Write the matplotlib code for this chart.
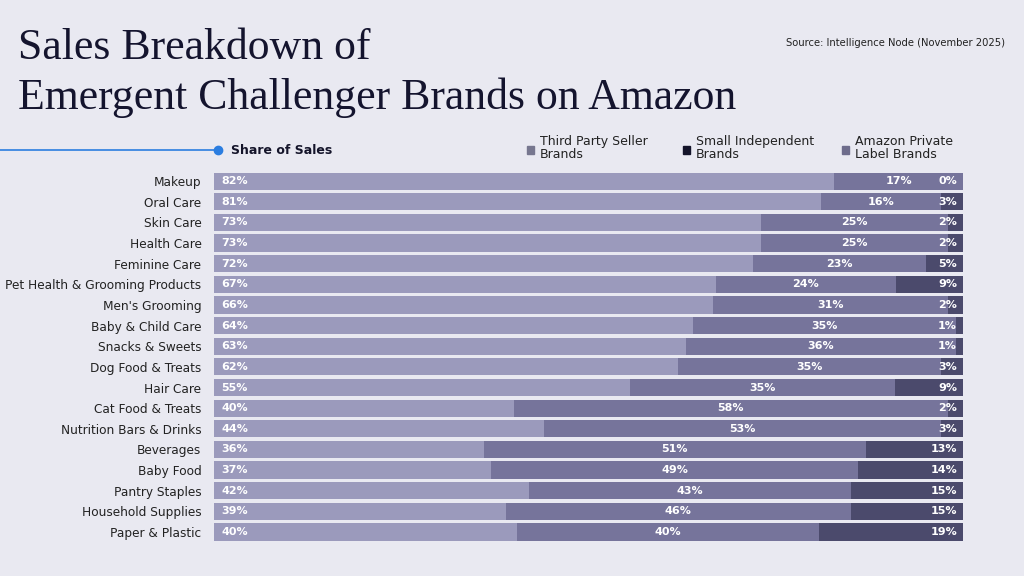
import numpy as np
import matplotlib.pyplot as plt
from matplotlib.patches import Rectangle
from matplotlib.lines import Line2D

# datos
categorias = ['Makeup', 'Oral Care', 'Skin Care', 'Health Care', 'Feminine Care',
              'Pet Health & Grooming Products', "Men's Grooming", 'Baby & Child Care',
              'Snacks & Sweets', 'Dog Food & Treats', 'Hair Care', 'Cat Food & Treats',
              'Nutrition Bars & Drinks', 'Beverages', 'Baby Food', 'Pantry Staples',
              'Household Supplies', 'Paper & Plastic']
tercero = [82, 81, 73, 73, 72, 67, 66, 64, 63, 62, 55, 40, 44, 36, 37, 42, 39, 40]
independiente = [17, 16, 25, 25, 23, 24, 31, 35, 36, 35, 35, 58, 53, 51, 49, 43, 46, 40]
privada = [0, 3, 2, 2, 5, 9, 2, 1, 1, 3, 9, 2, 3, 13, 14, 15, 15, 19]
series = ['Third Party Seller\nBrands', 'Small Independent\nBrands', 'Amazon Private\nLabel Brands']

fondo = '#e9e9f1'
colores = ['#9b9abc', '#76749b', '#4b4a6c']
colores_leyenda = ['#77778f', '#14142a', '#6e6c8c']

# cada fila ocupa todo el ancho
datos = np.array([tercero, independiente, privada], dtype=float)
datos_norm = datos / datos.sum(axis=0) * 100

fig = plt.figure(figsize=(10.24, 5.76), dpi=100, facecolor=fondo)
ax = fig.add_axes([214 / 1024, 0.0585, (963 - 214) / 1024, 0.645])
ax.set_facecolor(fondo)

y = np.arange(len(categorias))
izq = np.zeros(len(categorias))
for i in range(3):
    ax.barh(y, datos_norm[i], left=izq, height=0.83, color=colores[i], linewidth=0)
    for j in range(len(categorias)):
        txt = f'{int(datos[i][j])}%'
        if i == 0:
            ax.text(izq[j] + 1.0, y[j], txt, ha='left', va='center', color='white',
                    fontsize=8, fontweight='bold')
        elif i == 1:
            ax.text(izq[j] + datos_norm[i][j] / 2, y[j], txt, ha='center', va='center',
                    color='white', fontsize=8, fontweight='bold')
        else:
            ax.text(99.2, y[j], txt, ha='right', va='center', color='white',
                    fontsize=8, fontweight='bold')
    izq = izq + datos_norm[i]

ax.set_xlim(0, 100)
ax.set_ylim(len(categorias) - 0.5, -0.5)
ax.set_yticks(y)
ax.set_yticklabels(categorias, fontsize=8.7, color='#222222')
ax.tick_params(axis='y', length=0, pad=9)
ax.set_xticks([])
for s in ax.spines.values():
    s.set_visible(False)

# titulo
fig.text(18 / 1024, 1 - 48 / 576, 'Sales Breakdown of', fontsize=31.5, family='Liberation Serif',
         color='#14142e', va='center', ha='left')
fig.text(18 / 1024, 1 - 98 / 576, 'Emergent Challenger Brands on Amazon', fontsize=31.5,
         family='Liberation Serif', color='#14142e', va='center', ha='left')
fig.text(1005 / 1024, 1 - 43 / 576, 'Source: Intelligence Node (November 2025)', fontsize=7.2,
         color='#222222', ha='right', va='center')

# linea azul y "Share of Sales"
fig.add_artist(Line2D([0, 218 / 1024], [1 - 150 / 576, 1 - 150 / 576], color='#2b7de0', lw=1.2))
fig.add_artist(Line2D([218 / 1024], [1 - 150 / 576], marker='o', color='#2b7de0', markersize=6))
fig.text(231 / 1024, 1 - 150 / 576, 'Share of Sales', fontsize=9, fontweight='bold',
         color='#14142a', ha='left', va='center')

# leyenda
pos_x = [527, 683, 842]
for i in range(3):
    fig.add_artist(Rectangle((pos_x[i] / 1024, 1 - 154 / 576), 7 / 1024, 8 / 576,
                             color=colores_leyenda[i]))
    fig.text((pos_x[i] + 13) / 1024, 1 - 148 / 576, series[i], fontsize=9, color='#222222',
             ha='left', va='center', linespacing=0.95)

fig.savefig('out.png', dpi=100, facecolor=fondo)
